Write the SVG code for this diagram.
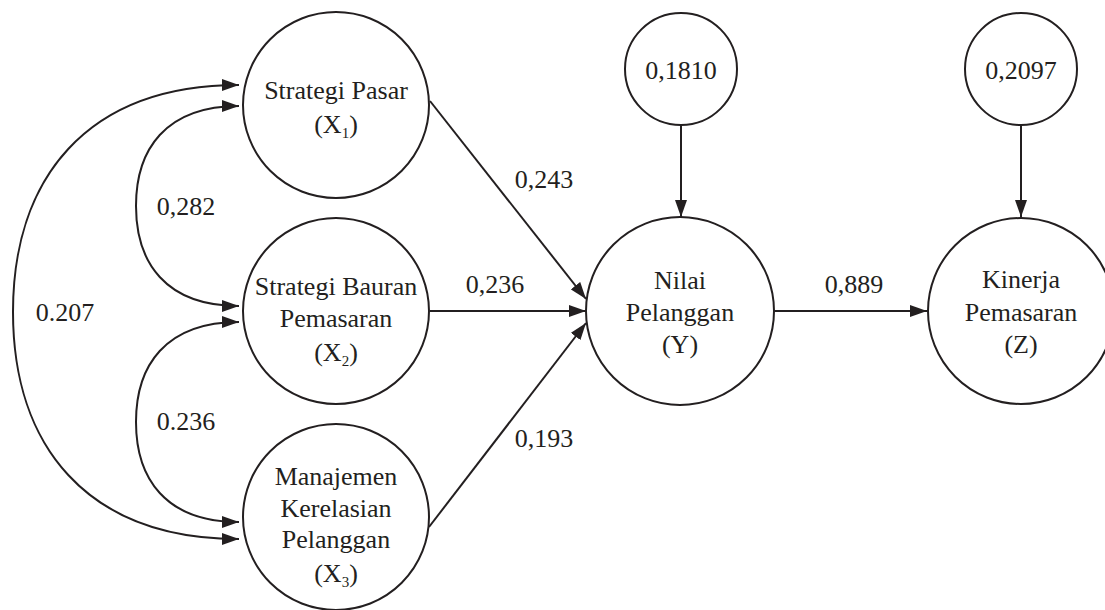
<svg xmlns="http://www.w3.org/2000/svg" width="1105" height="610" viewBox="0 0 1105 610" font-family="'Liberation Serif', 'Times New Roman', Times, 'DejaVu Serif', serif">
<style>
.n{fill:#fff;stroke:#231f20;stroke-width:2}
.c{fill:none;stroke:#231f20;stroke-width:2}
.t{font-family:'Liberation Serif','Times New Roman',Times,'DejaVu Serif',serif;font-size:26px;fill:#231f20;text-anchor:middle}
.s{font-size:15px}
</style>
<defs>
<marker id="ah" viewBox="0 0 17 12" refX="17" refY="6" markerWidth="17" markerHeight="12" markerUnits="userSpaceOnUse" orient="auto-start-reverse">
<path d="M0,0 L17,6 L0,12 z" fill="#231f20"/>
</marker>
</defs>
<rect width="1105" height="610" fill="#fff"/>
<g id="connectors">
<path class="c" d="M239,106 C165,106 136,150 136,206 C136,262 165,306 239,306" marker-start="url(#ah)" marker-end="url(#ah)"/>
<path class="c" d="M239,322 C165,322 136,366 136,422 C136,478 165,522 239,522" marker-start="url(#ah)" marker-end="url(#ah)"/>
<path class="c" d="M239,85 C85,85 13,180 13,312 C13,444 85,539 239,539" marker-start="url(#ah)" marker-end="url(#ah)"/>
<path class="c" d="M430,101 L586,299" marker-end="url(#ah)"/>
<path class="c" d="M430,311 L586,311" marker-end="url(#ah)"/>
<path class="c" d="M429,527 L586,323" marker-end="url(#ah)"/>
<path class="c" d="M774,311 L927,311" marker-end="url(#ah)"/>
<path class="c" d="M681,125 L681,217" marker-end="url(#ah)"/>
<path class="c" d="M1021,125 L1021,217" marker-end="url(#ah)"/>
<text class="t" x="186" y="215">0,282</text>
<text class="t" x="186" y="430">0.236</text>
<text class="t" x="65" y="321">0.207</text>
<text class="t" x="544" y="188">0,243</text>
<text class="t" x="495" y="293">0,236</text>
<text class="t" x="544" y="447">0,193</text>
<text class="t" x="854" y="293">0,889</text>
</g>
<g id="x1">
<circle class="n" cx="336" cy="105" r="93"/>
<text class="t" x="336" y="99">Strategi Pasar</text>
<text class="t" x="336" y="133">(X<tspan class="s" dy="5">1</tspan><tspan dy="-5">)</tspan></text>
</g>
<g id="x2">
<circle class="n" cx="336" cy="311" r="93"/>
<text class="t" x="336" y="295">Strategi Bauran</text>
<text class="t" x="336" y="327">Pemasaran</text>
<text class="t" x="336" y="361">(X<tspan class="s" dy="5">2</tspan><tspan dy="-5">)</tspan></text>
</g>
<g id="x3">
<circle class="n" cx="336" cy="517" r="93"/>
<text class="t" x="336" y="485">Manajemen</text>
<text class="t" x="336" y="517">Kerelasian</text>
<text class="t" x="336" y="548">Pelanggan</text>
<text class="t" x="336" y="582">(X<tspan class="s" dy="5">3</tspan><tspan dy="-5">)</tspan></text>
</g>
<g id="y">
<circle class="n" cx="680" cy="311" r="94"/>
<text class="t" x="680" y="289">Nilai</text>
<text class="t" x="680" y="321">Pelanggan</text>
<text class="t" x="680" y="353">(Y)</text>
</g>
<g id="z">
<circle class="n" cx="1021" cy="311" r="93"/>
<text class="t" x="1021" y="288">Kinerja</text>
<text class="t" x="1021" y="321">Pemasaran</text>
<text class="t" x="1021" y="353">(Z)</text>
</g>
<g id="e1">
<circle class="n" cx="681" cy="69" r="56"/>
<text class="t" x="681" y="79">0,1810</text>
</g>
<g id="e2">
<circle class="n" cx="1021" cy="69" r="56"/>
<text class="t" x="1021" y="79">0,2097</text>
</g>
</svg>
